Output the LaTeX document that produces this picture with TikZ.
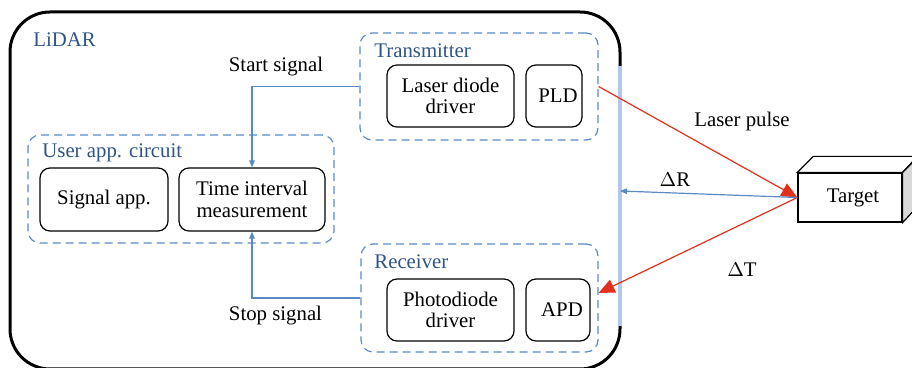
\documentclass[tikz,border=0pt]{standalone}
\usepackage{fontspec}
\setmainfont{Liberation Serif}
\usetikzlibrary{arrows.meta,calc}
\definecolor{grpblue}{HTML}{5A8AC6}
\definecolor{lblblue}{HTML}{2F5486}
\definecolor{winblue}{HTML}{B4C7E7}
\definecolor{pulsered}{HTML}{E2301F}
\definecolor{sidegrey}{HTML}{D9D9D9}
\begin{document}
\begin{tikzpicture}[x=0.5pt,y=-0.5pt,
  font=\fontsize{10.4}{10.8}\selectfont,
  block/.style={draw=black, line width=0.6pt, rounded corners=5pt, align=center, inner sep=0pt},
  group/.style={draw=grpblue, line width=0.6pt, dash pattern=on 4pt off 2.5pt, rounded corners=6pt, inner sep=0pt},
  grplabel/.style={text=lblblue, anchor=west, inner sep=0pt},
  plain/.style={inner sep=0pt},
  sig/.style={draw=grpblue, line width=0.6pt, -{Triangle[length=3.5pt,width=2.8pt]}},
  pulse/.style={draw=pulsered, line width=0.6pt, -{Triangle[length=8pt,width=7pt]}}]
\useasboundingbox (0,0) rectangle (912,368);

% LiDAR housing with its optical window on the right
\draw[line width=1.5pt, rounded corners=20pt] (620,12) -- (10,12) -- (10,369) -- (620,369) -- cycle;
\draw[winblue, line width=2pt] (620,66) coordinate (wtop) -- (620,326) coordinate (wbot);
\node[plain, text=lblblue, anchor=west] (lidar) at (33,40) {LiDAR};

% functional groups
\node[group, minimum width=119pt, minimum height=53.5pt] (tx) at (479,86.5) {};
\node[grplabel] (txl) at (374,51) {Transmitter};
\node[group, minimum width=118.5pt, minimum height=54pt] (rx) at (479.5,298) {};
\node[grplabel] (rxl) at (374,262) {Receiver};
\node[group, minimum width=153pt, minimum height=54pt] (ua) at (181,189) {};
\node[grplabel] (ual) at (42,153) {User app. circuit};

% blocks
\node[block, minimum width=63.5pt, minimum height=31pt] (ldd) at (450.5,96) {Laser diode\\driver};
\node[block, minimum width=28pt, minimum height=31pt] (pld) at (554,96) {\hspace*{4pt}PLD};
\node[block, minimum width=63.5pt, minimum height=31pt] (pdd) at (450.5,310) {Photodiode\\driver};
\node[block, minimum width=32pt, minimum height=31pt] (apd) at (558,310) {\hspace*{4pt}APD};
\node[block, minimum width=64pt, minimum height=31.5pt] (sapp) at (104,199.5) {Signal app.};
\node[block, minimum width=73pt, minimum height=31.5pt] (tim) at (252,199.5) {Time interval\\measurement};

% target
\node[draw=black, line width=0.6pt, fill=white, minimum width=52pt, minimum height=24.5pt, inner sep=0pt] (tgt) at (850,197.5) {\hspace*{3pt}Target};
\draw[line width=0.6pt, fill=white] (tgt.north west) -- ++(16,-16) -- ++(104,0) -- (tgt.north east) -- cycle;
\draw[line width=0.6pt, fill=sidegrey] (tgt.north east) -- ++(16,-16) -- ++(0,49) -- (tgt.south east) -- cycle;

% timing signals
\draw[sig] (tx.west) -| (tim.north);
\draw[sig] (rx.west) -| (tim.south);
\node[plain] (startl) at (276,67) {Start signal};
\node[plain] (stopl) at (275.5,316) {Stop signal};

% optical path
\coordinate (win) at (620,191);
\coordinate (rxin) at ($(rx.east)+(0,-5)$);
\draw[pulse] (tx.east) -- (tgt.west);
\draw[pulse] (tgt.west) -- (rxin);
\draw[sig] (tgt.west) -- (win);
\node[plain] (pulsel) at (742,122) {Laser pulse};
\node[plain] (drl) at (675,180) {$\Delta$R};
\node[plain] (dtl) at (742,270) {$\Delta$T};
\end{tikzpicture}
\end{document}
